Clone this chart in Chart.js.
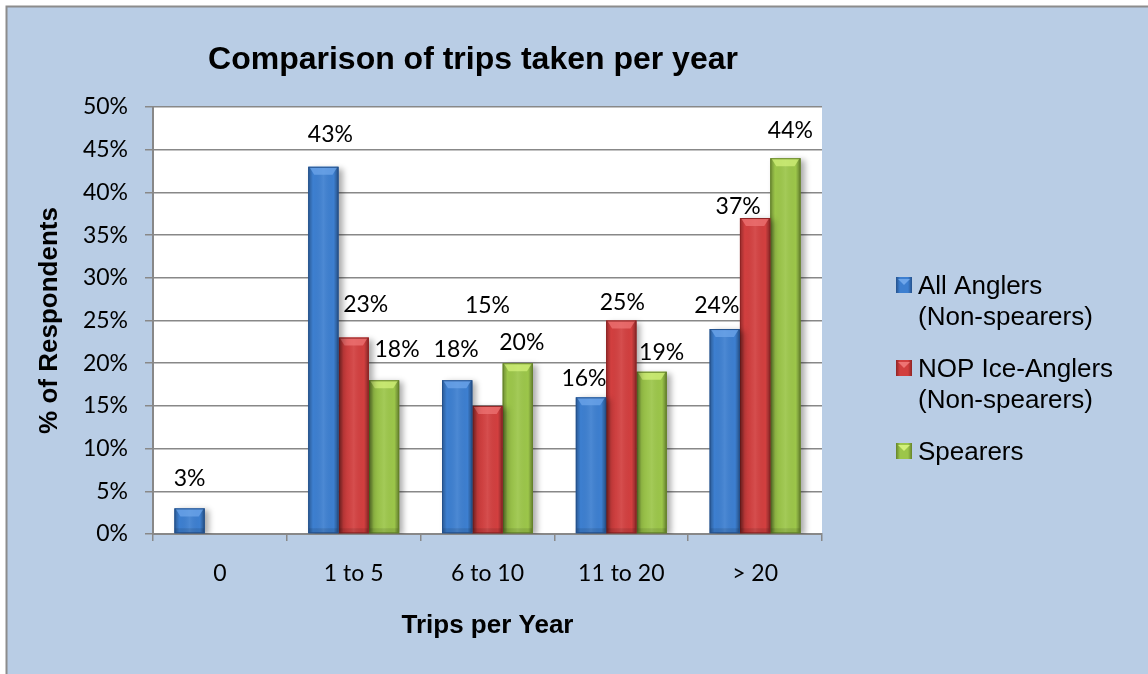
<!DOCTYPE html>
<html>
<head>
<meta charset="utf-8">
<script src="https://cdn.jsdelivr.net/npm/chart.js@4.4.1/dist/chart.umd.min.js"></script>
<style>
  html, body { margin: 0; padding: 0; background: #fff; }
  canvas { display: block; }
</style>
</head>
<body>
<canvas id="trips-chart" width="1148" height="674"></canvas>
<script>
// survey results, % of respondents per trips-per-year bucket
const CATEGORIES      = ['0', '1 to 5', '6 to 10', '11 to 20', '> 20']
const ALL_ANGLERS     = [3, 43, 18, 16, 24]
const NOP_ICE_ANGLERS = [null, 23, 15, 25, 37]
const SPEARERS        = [null, 18, 20, 19, 44]

const SERIES_NAMES = [
  ['All Anglers', '(Non-spearers)'],
  ['NOP Ice-Anglers', '(Non-spearers)'],
  ['Spearers'],
]

// mid tone, dark edge, light cap
const SERIES_COLORS = [
  { mid: '#3d7fd0', dark: '#24518c', light: '#6ea6ea' },
  { mid: '#d23f3f', dark: '#8f2424', light: '#ee7474' },
  { mid: '#9cc64a', dark: '#65832a', light: '#d2f07a' },
]

// hand placed labels: lift above the bar top and sideways shift, px
const LABEL_LIFT  = [[30, 32, 31, 19, 23], [0, 33, 100, 18, 11], [0, 31, 21, 19, 28]]
const LABEL_SHIFT = [[0, 7, -1, -7, -8], [0, 12, 0, 1, -17], [0, 13, 4, 10, 5]]

const BG        = '#b9cde5'
const AXIS_GRAY = '#888888'
const TICK_FONT = { family: 'Lato', size: 23 }

const frame = {
  id: 'frame',
  beforeDraw(chart) {
    const { ctx, width, height, chartArea: a } = chart
    ctx.save()
    ctx.fillStyle = '#fff'
    ctx.fillRect(0, 0, width, height)
    ctx.fillStyle = BG
    ctx.fillRect(6, 6, width - 6, height - 6)
    ctx.strokeStyle = '#8c8c8c'
    ctx.lineWidth = 2
    ctx.beginPath()
    ctx.moveTo(6.5, height)
    ctx.lineTo(6.5, 6.5)
    ctx.lineTo(width, 6.5)
    ctx.stroke()
    ctx.fillStyle = '#fff'
    ctx.fillRect(a.left, a.top, a.right - a.left, a.bottom - a.top)
    ctx.restore()
  },
  beforeDatasetDraw(chart) {
    const ctx = chart.ctx
    ctx.save()
    ctx.shadowColor = 'rgba(0,0,0,0.33)'
    ctx.shadowBlur = 6
    ctx.shadowOffsetX = 4
    ctx.shadowOffsetY = 2
  },
  afterDatasetDraw(chart, args) {
    const ctx = chart.ctx
    ctx.restore()
    const c = SERIES_COLORS[args.index]
    args.meta.data.forEach((bar, i) => {
      if (chart.data.datasets[args.index].data[i] == null) return
      const { x, y, base, width } = bar.getProps(['x', 'y', 'base', 'width'], true)
      const l = x - width / 2
      const r = x + width / 2
      const h = base - y
      ctx.save()
      // rounded side shading
      const g = ctx.createLinearGradient(l, 0, r, 0)
      g.addColorStop(0, 'rgba(0,0,0,0.30)')
      g.addColorStop(0.16, 'rgba(0,0,0,0)')
      g.addColorStop(0.5, 'rgba(255,255,255,0.08)')
      g.addColorStop(0.84, 'rgba(0,0,0,0)')
      g.addColorStop(1, 'rgba(0,0,0,0.38)')
      ctx.fillStyle = g
      ctx.fillRect(l, y, width, h)
      // bevelled top
      const cap = Math.min(8, h / 2)
      ctx.fillStyle = c.light
      ctx.globalAlpha = 0.75
      ctx.beginPath()
      ctx.moveTo(l + 1, y)
      ctx.lineTo(r - 1, y)
      ctx.lineTo(r - 6, y + cap)
      ctx.lineTo(l + 6, y + cap)
      ctx.closePath()
      ctx.fill()
      // slightly darker foot
      ctx.globalAlpha = 0.1
      ctx.fillStyle = '#000'
      ctx.fillRect(l, base - Math.min(5, h / 3), width, Math.min(5, h / 3))
      ctx.globalAlpha = 1
      ctx.strokeStyle = c.dark
      ctx.lineWidth = 1
      ctx.strokeRect(l + 0.5, y + 0.5, width - 1, h - 1)
      ctx.restore()
    })
  },
  afterDraw(chart) {
    const { ctx } = chart
    const yScale = chart.scales.y
    ctx.save()

    // value labels
    ctx.font = '23px Lato'
    ctx.fillStyle = '#000'
    ctx.textAlign = 'center'
    ctx.textBaseline = 'middle'
    chart.data.datasets.forEach((ds, s) => {
      const meta = chart.getDatasetMeta(s)
      ds.data.forEach((v, i) => {
        if (v == null) return
        const bar = meta.data[i]
        const top = yScale.getPixelForValue(v)
        ctx.fillText(v + '%', bar.x + LABEL_SHIFT[s][i], top - LABEL_LIFT[s][i])
      })
    })

    // chart title
    ctx.font = 'bold 32px "Liberation Sans"'
    ctx.textBaseline = 'alphabetic'
    ctx.fillText('Comparison of trips taken per year', 473, 69)

    // legend
    ctx.textAlign = 'left'
    ctx.font = '26px "Liberation Sans"'
    const baselines = [[294, 325], [377, 408], [460]]
    SERIES_NAMES.forEach((lines, s) => {
      const c = SERIES_COLORS[s]
      const top = baselines[s][0] - 17
      const g = ctx.createLinearGradient(896, 0, 912, 0)
      g.addColorStop(0, c.dark)
      g.addColorStop(0.25, c.mid)
      g.addColorStop(0.75, c.mid)
      g.addColorStop(1, c.dark)
      ctx.fillStyle = g
      ctx.fillRect(896, top, 16, 16)
      ctx.fillStyle = c.light
      ctx.beginPath()
      ctx.moveTo(898, top + 2)
      ctx.lineTo(910, top + 2)
      ctx.lineTo(904, top + 8)
      ctx.closePath()
      ctx.fill()
      ctx.fillStyle = '#000'
      lines.forEach((t, k) => ctx.fillText(t, 918, baselines[s][k]))
    })
    ctx.restore()
  },
}

const series = [ALL_ANGLERS, NOP_ICE_ANGLERS, SPEARERS]

new Chart(document.getElementById('trips-chart'), {
  type: 'bar',
  data: {
    labels: CATEGORIES,
    datasets: series.map((data, s) => ({
      label: SERIES_NAMES[s].join(' '),
      data,
      backgroundColor: SERIES_COLORS[s].mid,
      borderWidth: 0,
      categoryPercentage: 0.68,
      barPercentage: 1.0,
    })),
  },
  options: {
    responsive: false,
    animation: false,
    layout: { padding: { left: 0, top: 107, right: 326, bottom: 0 } },
    plugins: {
      legend: { display: false },
      tooltip: { enabled: false },
      title: { display: false },
    },
    scales: {
      x: {
        afterFit: scale => { scale.height = 140 },
        grid: {
          drawOnChartArea: false,
          drawTicks: true,
          tickLength: 7,
          color: AXIS_GRAY,
          lineWidth: 1.5,
        },
        border: { color: AXIS_GRAY, width: 2 },
        ticks: { color: '#000', font: TICK_FONT, padding: 19, maxRotation: 0 },
        title: {
          display: true,
          text: 'Trips per Year',
          color: '#000',
          font: { family: 'Liberation Sans', size: 26, weight: 'bold' },
          padding: { top: 0, bottom: 33 },
        },
      },
      y: {
        min: 0,
        max: 50,
        afterFit: scale => { scale.width = 153 },
        grid: {
          color: AXIS_GRAY,
          lineWidth: 1.5,
          drawTicks: true,
          tickLength: 8,
        },
        border: { color: AXIS_GRAY, width: 2 },
        ticks: {
          stepSize: 5,
          color: '#000',
          font: TICK_FONT,
          padding: 17,
          callback: v => v + '%',
        },
        title: {
          display: true,
          text: '% of Respondents',
          color: '#000',
          font: { family: 'Liberation Sans', size: 26, weight: 'bold' },
          padding: { top: 34, bottom: 0 },
        },
      },
    },
  },
  plugins: [frame],
})
</script>
</body>
</html>
